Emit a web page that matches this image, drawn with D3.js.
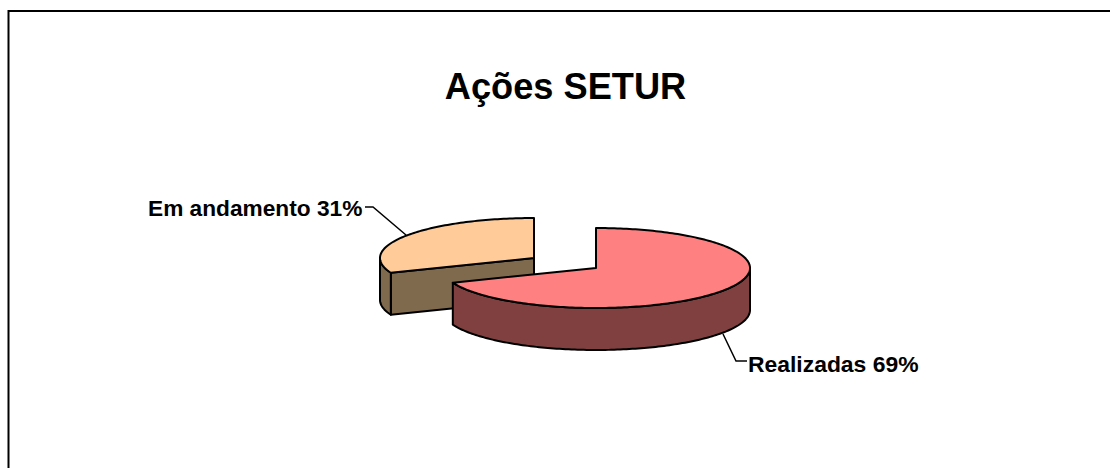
<!DOCTYPE html>
<html>
<head>
<meta charset="utf-8">
<script src="https://cdn.jsdelivr.net/npm/d3@7"></script>
<style>
    html, body { margin: 0; padding: 0; background: #fff; overflow: hidden; }
    text { font-family: "Liberation Sans", Arial, sans-serif; font-weight: bold; fill: #000; }
</style>
</head>
<body>
<div id="chart"></div>
<script>
const title = "Ações SETUR";
const categories = ["Realizadas", "Em andamento"];
const values = [69, 31];

const width = 1110, height = 468;
const topColors = ["#ff8080", "#ffcc99"];
const sideColors = ["#804040", "#806a4d"];

let svg = d3.select("#chart")
    .append("svg")
    .attr("width", width)
    .attr("height", height);

// Frame: only top and left edges fall inside the picture
svg.append("path")
    .attr("d", "M8.5,468V11H1110")
    .attr("fill", "none")
    .attr("stroke", "#000")
    .attr("stroke-width", 2);

svg.append("text")
    .attr("x", 565.5)
    .attr("y", 99)
    .attr("text-anchor", "middle")
    .attr("font-size", "36.2px")
    .text(title);

// Pie angles, clockwise from 12 o'clock
let slices = d3.pie().sort(null)(values);

// Flattened ellipse used for the 3D look
let xScale = d3.scaleLinear().domain([-1, 1]).range([-154, 154]);
let yScale = d3.scaleLinear().domain([-1, 1]).range([40, -40]);
const depth = 42;
const centers = [[596, 268], [534, 258]];

let lineGenerator = d3.line();

function rimPoint(angle, center, drop) {
    return [center[0] + xScale(Math.sin(angle)),
            center[1] + yScale(Math.cos(angle)) + drop];
}

function rim(a0, a1, center, drop) {
    let n = Math.max(2, Math.ceil(Math.abs(a1 - a0) / 0.02));
    return d3.range(n + 1).map(i => rimPoint(a0 + (a1 - a0) * i / n, center, drop));
}

// Outer wall of a slice, only the part facing the viewer (pi/2 to 3pi/2)
function wallPath(d, center) {
    let a0 = Math.max(d.startAngle, Math.PI / 2);
    let a1 = Math.min(d.endAngle, Math.PI * 1.5);
    if (a1 <= a0) return null;
    return lineGenerator(rim(a0, a1, center, 0).concat(rim(a1, a0, center, depth))) + "Z";
}

function topPath(d, center) {
    return lineGenerator([center].concat(rim(d.startAngle, d.endAngle, center, 0))) + "Z";
}

function drawSlice(i) {
    let d = slices[i], center = centers[i];
    let g = svg.append("g")
        .attr("stroke", "#000")
        .attr("stroke-width", 2)
        .attr("stroke-linejoin", "round");

    // Cut face of the small slice is visible, it faces the viewer
    if (i === 1) {
        let p = rimPoint(d.startAngle, center, 0);
        g.append("path")
            .attr("d", lineGenerator([center, p, [p[0], p[1] + depth], [center[0], center[1] + depth]]) + "Z")
            .attr("fill", sideColors[i]);
    }
    g.append("path")
        .attr("d", wallPath(d, center))
        .attr("fill", sideColors[i]);
    g.append("path")
        .attr("d", topPath(d, center))
        .attr("fill", topColors[i]);
}

// Back slice first so the big one sits over it
drawSlice(1);
drawSlice(0);

// Leader lines and labels
const labelText = categories.map((c, i) => c + " " + values[i] + "%");

svg.append("path")
    .attr("d", lineGenerator([[723, 334], [736, 361], [747, 361]]))
    .attr("fill", "none").attr("stroke", "#000").attr("stroke-width", 1.5);
svg.append("path")
    .attr("d", lineGenerator([[365, 207], [373, 207], [406, 235]]))
    .attr("fill", "none").attr("stroke", "#000").attr("stroke-width", 1.5);

svg.append("text")
    .attr("x", 748)
    .attr("y", 372)
    .attr("font-size", "22.9px")
    .text(labelText[0]);

svg.append("text")
    .attr("x", 148)
    .attr("y", 216)
    .attr("font-size", "22.7px")
    .text(labelText[1]);
</script>
</body>
</html>
